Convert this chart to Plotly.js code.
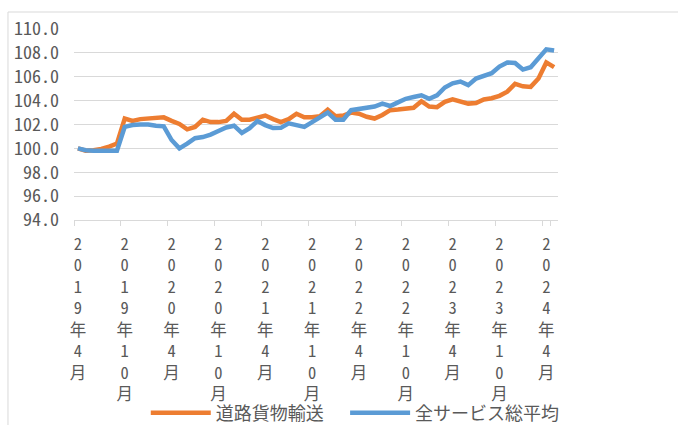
<!DOCTYPE html>
<html><head><meta charset="utf-8">
<script src="https://cdn.plot.ly/plotly-3.0.1.min.js"></script>
<style>html,body{margin:0;padding:0;background:#fff}#chart{width:678px;height:425px}</style>
</head><body><div id="chart"></div>
<script>
const months = [
 "2019年4月","2019年5月","2019年6月","2019年7月","2019年8月","2019年9月","2019年10月","2019年11月","2019年12月",
 "2020年1月","2020年2月","2020年3月","2020年4月","2020年5月","2020年6月","2020年7月","2020年8月","2020年9月","2020年10月","2020年11月","2020年12月",
 "2021年1月","2021年2月","2021年3月","2021年4月","2021年5月","2021年6月","2021年7月","2021年8月","2021年9月","2021年10月","2021年11月","2021年12月",
 "2022年1月","2022年2月","2022年3月","2022年4月","2022年5月","2022年6月","2022年7月","2022年8月","2022年9月","2022年10月","2022年11月","2022年12月",
 "2023年1月","2023年2月","2023年3月","2023年4月","2023年5月","2023年6月","2023年7月","2023年8月","2023年9月","2023年10月","2023年11月","2023年12月",
 "2024年1月","2024年2月","2024年3月","2024年4月","2024年5月"
];
const roadFreight = [
 100.0, 99.8, 99.85, 99.95, 100.15, 100.4, 102.5, 102.3, 102.45,
 102.5, 102.6, 102.6, 102.3, 102.05, 101.6, 101.8, 102.4, 102.2, 102.2, 102.3, 102.9,
 102.4, 102.4, 102.6, 102.75, 102.45, 102.2, 102.45, 102.9, 102.6, 102.6, 102.7, 103.25,
 102.7, 102.75, 103.0, 102.9, 102.65, 102.5, 102.8, 103.2, 103.25, 103.3, 103.4, 103.95,
 103.5, 103.45, 103.9, 104.1, 103.9, 103.75, 103.8, 104.1, 104.2, 104.4, 104.75, 105.4,
 105.2, 105.15, 105.85, 107.2, 106.8
];
const allServices = [
 100.0, 99.85, 99.8, 99.8, 99.8, 99.8, 101.8, 101.95, 102.0,
 102.0, 101.9, 101.85, 100.7, 100.0, 100.4, 100.85, 100.95, 101.15, 101.45, 101.75, 101.9,
 101.3, 101.7, 102.3, 101.95, 101.7, 101.72, 102.1, 101.95, 101.8, 102.2, 102.55, 103.0,
 102.4, 102.4, 103.2, 103.3, 103.4, 103.5, 103.75, 103.55, 103.85, 104.15, 104.3, 104.45,
 104.15, 104.45, 105.1, 105.45, 105.6, 105.3, 105.85, 106.1, 106.3, 106.85, 107.2, 107.15,
 106.6, 106.8, 107.55, 108.3, 108.2
];
const tickMonths = ["2019年4月","2019年10月","2020年4月","2020年10月","2021年4月","2021年10月","2022年4月","2022年10月","2023年4月","2023年10月","2024年4月"];
const seriesNames = ["道路貨物輸送","全サービス総平均"];
const seriesColors = ["#ED7D31","#5B9BD5"];

const verticalText = s => Array.from(s).join("<br>");
const FONT = "'Noto Sans Mono CJK JP','Noto Sans CJK JP',sans-serif";

const legendIds = ["legend", "legend2"];
const traces = [roadFreight, allServices].map((vals, k) => ({
  type: "scatter", mode: "lines", x: months, y: vals, name: seriesNames[k],
  legend: legendIds[k],
  line: {color: seriesColors[k], width: 4.5}, hoverinfo: "skip"
}));

const legendBase = {orientation: "h", xref: "container", yref: "container", y: 0.028,
  xanchor: "left", yanchor: "middle", font: {size: 18}, itemwidth: 60,
  bgcolor: "rgba(0,0,0,0)"};

const layout = {
  width: 678, height: 425,
  margin: {l: 74, r: 120, t: 29, b: 205, pad: 0},
  paper_bgcolor: "#fff", plot_bgcolor: "#fff",
  font: {family: FONT, color: "#595959", size: 17},
  showlegend: true,
  legend: Object.assign({}, legendBase, {x: 0.215}),
  legend2: Object.assign({}, legendBase, {x: 0.509}),
  xaxis: {type: "category", range: [-0.5, 61.5], tickmode: "array", tickvals: tickMonths,
          ticktext: tickMonths.map(verticalText), tickson: "boundaries", ticks: "outside",
          ticklen: 5, tickcolor: "#d9d9d9", showline: true, linecolor: "#d9d9d9", linewidth: 1,
          showgrid: false, tickangle: 0, tickfont: {size: 16.5}, ticklabelstandoff: 9, fixedrange: true},
  yaxis: {range: [94, 110], tick0: 94, dtick: 2, tickformat: ".1f", showgrid: true,
          gridcolor: "#d9d9d9", gridwidth: 1, zeroline: false, showline: false, ticks: "",
          ticklabelstandoff: 14, tickfont: {size: 18}, fixedrange: true},
  shapes: [{type: "rect", xref: "paper", yref: "paper", x0: -0.1364, x1: 1.3, y0: -1.2, y1: 1.089,
            line: {color: "#d9d9d9", width: 1}, fillcolor: "rgba(0,0,0,0)", layer: "below"}]
};

Plotly.newPlot("chart", traces, layout, {staticPlot: true, displayModeBar: false});
</script></body></html>
